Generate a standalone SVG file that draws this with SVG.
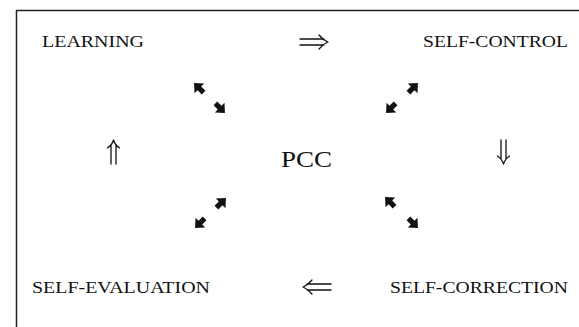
<svg xmlns="http://www.w3.org/2000/svg" width="579" height="327" viewBox="0 0 579 327">
  <style>
    .lbl { font-family: "Liberation Serif", "Times New Roman", serif; font-size: 17px; fill: #111; }
    .hub { font-family: "Liberation Serif", "Times New Roman", serif; font-size: 23px; fill: #111; }
    .dbl { fill: none; stroke: #111; stroke-width: 1.3; stroke-linecap: round; stroke-linejoin: round; }
    .frame { fill: none; stroke: #222; stroke-width: 1.5; }
  </style>
  <defs>
    <!-- short bold arrow pointing east, centred on the origin -->
    <path id="bold" d="M-6.5,-2.6 L-0.5,-2.6 L-0.5,-6.8 L7,0 L-0.5,6.8 L-0.5,2.6 L-6.5,2.6 Z" fill="#111"/>
  </defs>

  <rect width="579" height="327" fill="#fff"/>

  <!-- frame: top and left rules -->
  <path class="frame" d="M16,10.5 H579 M16.5,10 V327"/>

  <g id="learning"><text class="lbl" x="42" y="47" textLength="102" lengthAdjust="spacingAndGlyphs">LEARNING</text></g>
  <g id="self-control"><text class="lbl" x="423" y="47" textLength="145" lengthAdjust="spacingAndGlyphs">SELF-CONTROL</text></g>
  <g id="pcc"><text class="hub" x="281" y="167" textLength="51" lengthAdjust="spacingAndGlyphs">PCC</text></g>
  <g id="self-evaluation"><text class="lbl" x="32" y="293" textLength="178" lengthAdjust="spacingAndGlyphs">SELF-EVALUATION</text></g>
  <g id="self-correction"><text class="lbl" x="390" y="293" textLength="178" lengthAdjust="spacingAndGlyphs">SELF-CORRECTION</text></g>

  <g id="connectors">
    <!-- cycle: double arrows between the four stages -->
    <path class="dbl" d="M300,39 H324 M300,45 H324 M319,35 Q323,40 328,42 Q323,44 319,49"/>
    <path class="dbl" d="M501,140 V159 M506,140 V159 M497.5,156 Q502,159 503.5,164 Q505,159 509.5,156"/>
    <path class="dbl" d="M331,284 H307 M331,290 H307 M312,280 Q308,285 303,287 Q308,289 312,294"/>
    <path class="dbl" d="M111,164 V145 M116,164 V145 M107.5,148 Q112,145 113.5,140 Q115,145 119.5,148"/>

    <!-- links between each stage and the hub -->
    <use href="#bold" transform="translate(199,88) rotate(-135)"/>
    <use href="#bold" transform="translate(220,108) rotate(45)"/>
    <use href="#bold" transform="translate(413,88) rotate(-45)"/>
    <use href="#bold" transform="translate(391,108) rotate(135)"/>
    <use href="#bold" transform="translate(221,203) rotate(-45)"/>
    <use href="#bold" transform="translate(200,223) rotate(135)"/>
    <use href="#bold" transform="translate(390,202) rotate(-135)"/>
    <use href="#bold" transform="translate(413,223) rotate(45)"/>
  </g>
</svg>
